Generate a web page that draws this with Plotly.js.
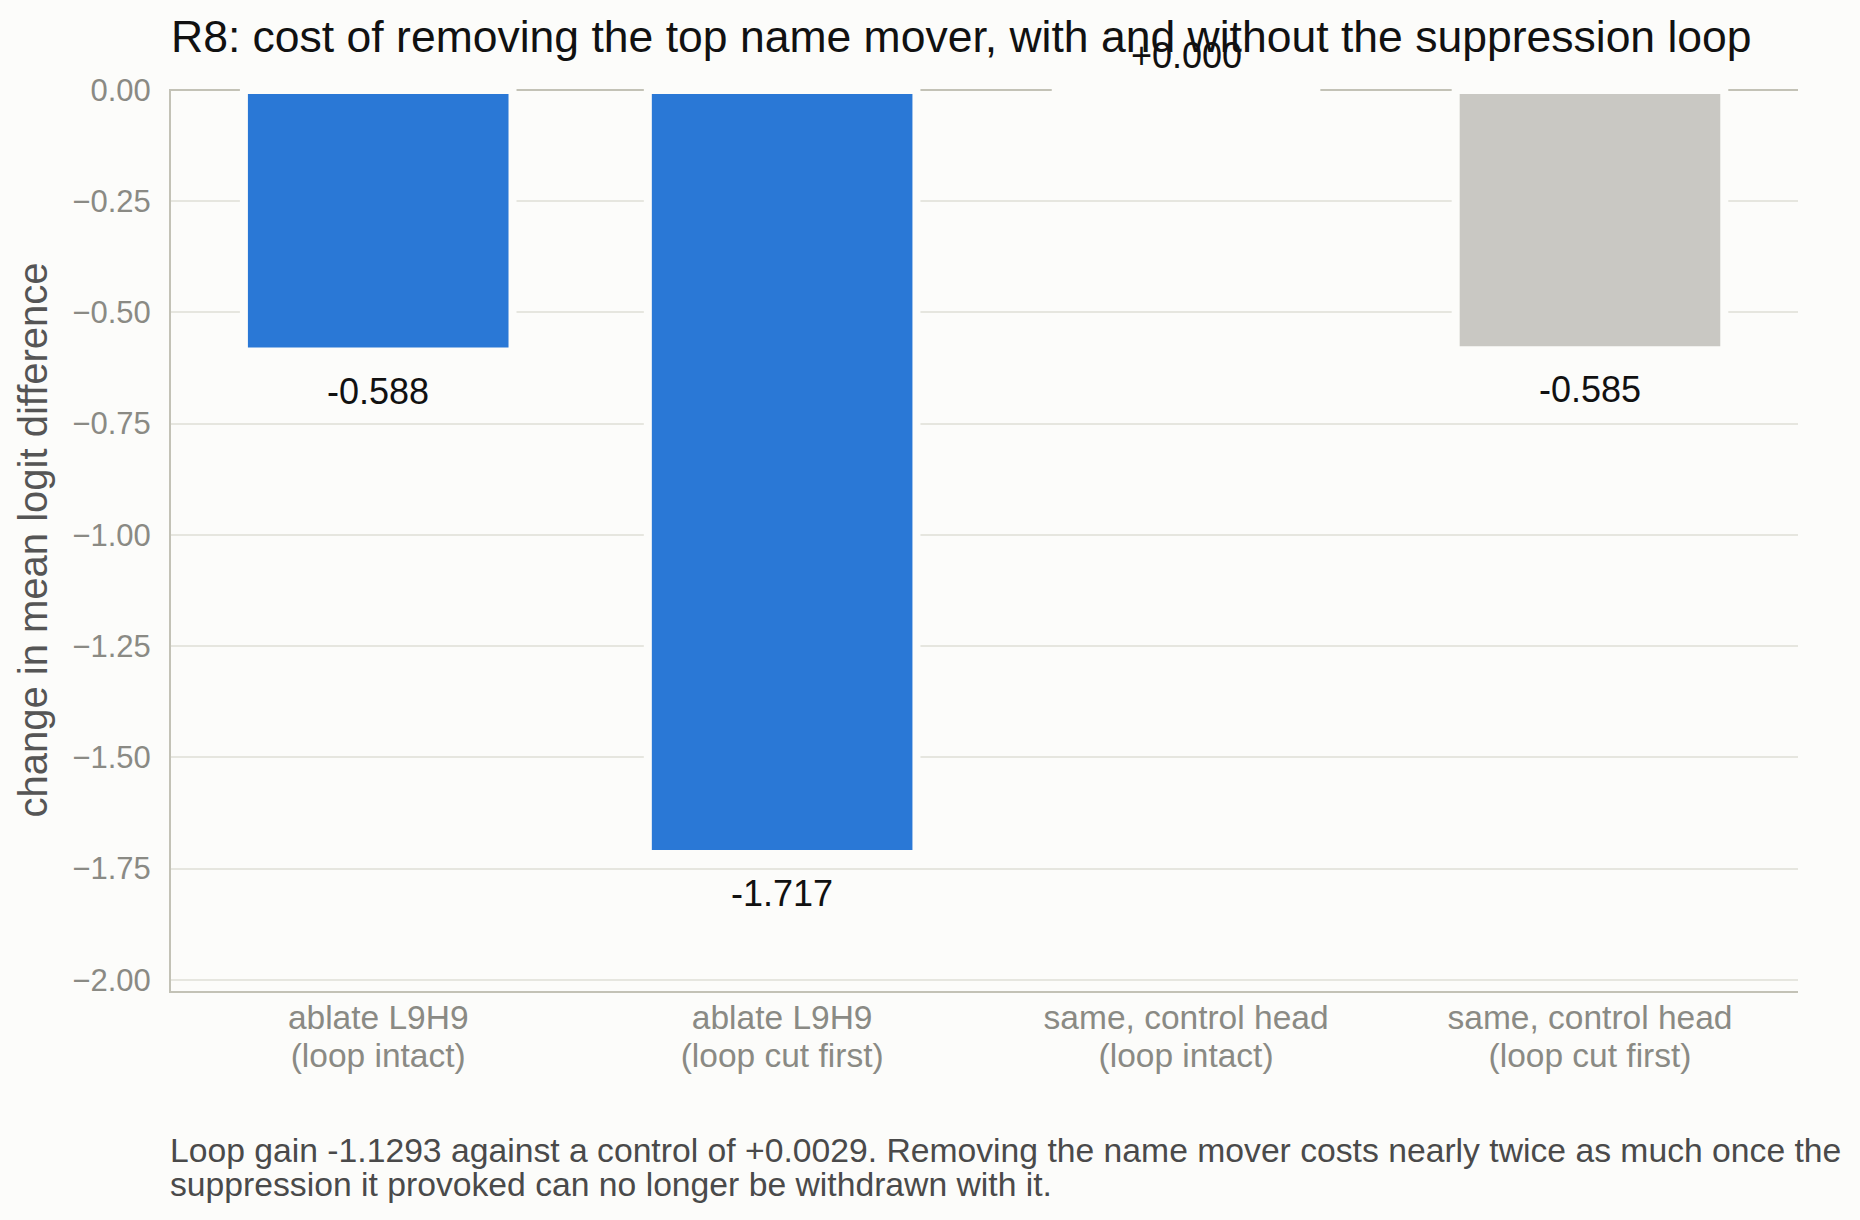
<!DOCTYPE html>
<html><head><meta charset="utf-8">
<script src="https://cdn.plot.ly/plotly-3.0.1.min.js"></script>
<style>html,body{margin:0;padding:0;background:#fcfcfa;} #chart{width:1860px;height:1220px;}</style>
</head><body><div id="chart"></div>
<script>
const categories = ["ablate L9H9<br>(loop intact)", "ablate L9H9<br>(loop cut first)", "same, control head<br>(loop intact)", "same, control head<br>(loop cut first)"];
const values = [-0.588, -1.717, 0.000, -0.585];
const barColors = ["#2a78d6", "#2a78d6", "#c9c8c3", "#c9c8c3"];
const valueLabels = ["-0.588", "-1.717", "+0.000", "-0.585"];
const yTickValues = [0, -0.25, -0.5, -0.75, -1, -1.25, -1.5, -1.75, -2];
const titleText = "R8: cost of removing the top name mover, with and without the suppression loop";
const yAxisTitle = "change in mean logit difference";
const noteLines = [
  "Loop gain -1.1293 against a control of +0.0029. Removing the name mover costs nearly twice as much once the",
  "suppression it provoked can no longer be withdrawn with it."
];

const FONT = "Liberation Sans, Arial, Helvetica, sans-serif";
const BG = "#fcfcfa";

// category tick text: larger glyphs on a tighter line pitch
const tickText = categories.map(c => c.split("<br>")
  .map(part => '<span style="font-size:33.5px">' + part + '</span>').join("<br>"));

const trace = {
  type: "bar",
  x: categories,
  y: values,
  marker: { color: barColors, line: { color: BG, width: 8 } },
  hoverinfo: "skip",
  showlegend: false
};

const valueAnnotations = values.map((v, i) => ({
  x: categories[i], y: v, xref: "x", yref: "y",
  text: valueLabels[i], showarrow: false,
  yanchor: v < 0 ? "top" : "bottom",
  yshift: v < 0 ? -17 : 12,
  font: { family: FONT, size: 36, color: "#111111" }
}));

const noteAnnotations = noteLines.map((t, i) => ({
  x: 0, xref: "paper", xanchor: "left", xshift: -3,
  y: -0.1535 - i * 0.0368, yref: "paper", yanchor: "top",
  text: t, showarrow: false, align: "left",
  font: { family: FONT, size: 33.7, color: "#4a4a4a" }
}));

const layout = {
  width: 1860, height: 1220, autosize: false,
  paper_bgcolor: BG, plot_bgcolor: BG,
  margin: { l: 171, r: 62, t: 89, b: 229 },
  font: { family: FONT },
  bargap: 0.335,
  title: {
    text: titleText,
    font: { family: FONT, size: 44.5, color: "#111111" },
    x: 0, xref: "paper", xanchor: "left",
    y: 0.983, yref: "container", yanchor: "top"
  },
  xaxis: {
    type: "category",
    range: [-0.513, 3.515],
    tickvals: categories, ticktext: tickText,
    showgrid: false, zeroline: false,
    showline: true, linecolor: "#c3c2b6", linewidth: 2,
    ticks: "", ticklabelstandoff: 1,
    tickfont: { family: FONT, size: 29, color: "#8a8a84" }
  },
  yaxis: {
    range: [-2.025, 0.002],
    tickvals: yTickValues, tickformat: ".2f",
    showgrid: true, gridcolor: "#e6e6df", gridwidth: 2,
    zeroline: true, zerolinecolor: "#c3c2b6", zerolinewidth: 2,
    showline: true, linecolor: "#c3c2b6", linewidth: 2,
    ticks: "", ticklabelstandoff: 12,
    tickfont: { family: FONT, size: 31, color: "#8a8a84" },
    title: { text: yAxisTitle, standoff: 12, font: { family: FONT, size: 40, color: "#555555" } },
    automargin: false
  },
  annotations: valueAnnotations.concat(noteAnnotations)
};

Plotly.newPlot("chart", [trace], layout, { staticPlot: true, displayModeBar: false });
</script>
</body></html>
